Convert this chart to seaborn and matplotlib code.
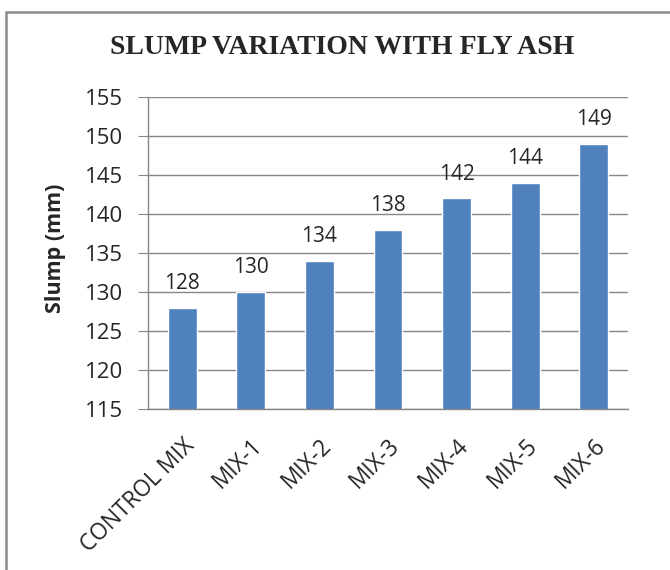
import matplotlib
matplotlib.use("Agg")
import matplotlib.pyplot as plt
import seaborn as sns
import pandas as pd
from matplotlib.patches import Rectangle

mezclas = ["CONTROL MIX", "MIX-1", "MIX-2", "MIX-3", "MIX-4", "MIX-5", "MIX-6"]
slump = [128, 130, 134, 138, 142, 144, 149]
y_ticks = [115, 120, 125, 130, 135, 140, 145, 150, 155]

GRIS = "#868686"
AZUL = "#4F81BD"

sns.set_style("white")
plt.rcParams["font.family"] = ["Open Sans", "DejaVu Sans"]

df = pd.DataFrame({"mezcla": mezclas, "slump": slump})

fig = plt.figure(figsize=(6.7, 5.7), dpi=100)
ax = fig.add_axes([0.2209, 0.2825, 0.7164, 0.5474])

sns.barplot(data=df, x="mezcla", y="slump", color=AZUL, width=0.42,
            saturation=1, ax=ax)

ax.set_ylim(y_ticks[0], y_ticks[-1])
ax.set_yticks(y_ticks)
ax.set_xlim(-0.5, len(mezclas) - 0.5)
ax.yaxis.grid(True, color=GRIS, linewidth=1)
ax.set_axisbelow(True)

for s in ["top", "right"]:
    ax.spines[s].set_visible(False)
for s in ["left", "bottom"]:
    ax.spines[s].set_color(GRIS)
    ax.spines[s].set_linewidth(1)

# etiquetas de valor
for i, v in enumerate(slump):
    ax.text(i, v + 2.4, str(v), ha="center", va="baseline", fontsize=15)

# ticks del eje x entre categorías (estilo Excel)
ax.set_xticks([i for i in range(len(mezclas))])
ax.set_xticklabels(mezclas, rotation=45, ha="right", rotation_mode="anchor",
                   fontsize=16.3)
ax.tick_params(axis="x", which="major", length=0, pad=18)
ax.set_xticks([i - 0.5 for i in range(len(mezclas) + 1)], minor=True)
ax.tick_params(axis="x", which="minor", length=5, color=GRIS, direction="out")
ax.tick_params(axis="y", length=7, color=GRIS, direction="out", labelsize=16,
               left=True, pad=11)

ax.set_xlabel("")
ax.set_ylabel("")
fig.text(56 / 670, 1 - 248 / 570, "Slump (mm)", rotation=90, ha="center",
         va="center", fontsize=15.5, fontweight="bold")

fig.text(0.51, 0.916, "SLUMP VARIATION WITH FLY ASH", ha="center",
         va="center", fontsize=20, fontweight="bold",
         family="Liberation Serif")

# marco exterior del gráfico
fig.patches.append(Rectangle((6 / 670, -0.1), 1.2, 1 - 12 / 570 + 0.1,
                             transform=fig.transFigure, fill=False,
                             edgecolor="#8c8c8c", linewidth=1.8))

fig.savefig("out.png", dpi=100)
plt.close(fig)
